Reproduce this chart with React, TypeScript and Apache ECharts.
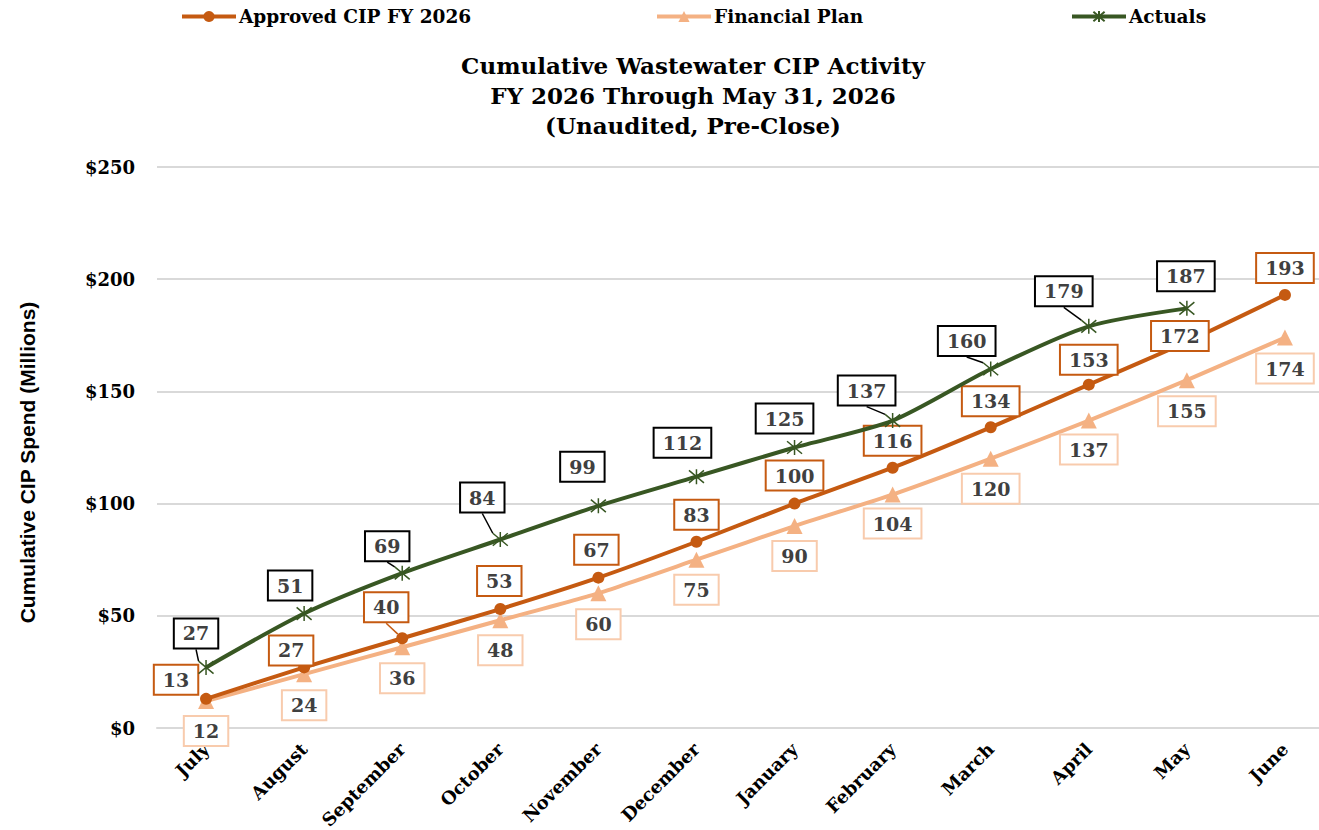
import React, { useEffect, useRef } from "react";
import * as echarts from "echarts";

const months = ["July", "August", "September", "October", "November", "December", "January", "February", "March", "April", "May", "June"];
const approved = [13, 27, 40, 53, 67, 83, 100, 116, 134, 153, 172, 193];
const financialPlan = [12, 24, 36, 48, 60, 75, 90, 104, 120, 137, 155, 174];
const actuals: (number | null)[] = [27, 51, 69, 84, 99, 112, 125, 137, 160, 179, 187, null];
const yTicks = [0, 50, 100, 150, 200, 250];

// label offsets (px) relative to each point
const actualsOffsets = [[-10, -34], [-14, -28], [-15, -27], [-18, -42], [-16, -39], [-14, -34], [-10, -29], [-26, -30], [-24, -28], [-25, -35], [-1, -32]];
const approvedOffsets = [[-30, -19], [-13, -17], [-16, -31], [-1, -28], [-2, -28], [0, -27], [0, -28], [0, -27], [0, -26], [0, -25], [-7, -6], [0, -27]];
const financialOffsets = [[0, 30], [0, 31], [0, 31], [0, 30], [0, 31], [0, 30], [0, 30], [0, 29], [0, 30], [0, 29], [0, 31], [0, 31]];
// which labels have a visible leader line
const actualsLeader = [true, false, true, true, false, false, false, true, true, true, false];
const approvedLeader = [false, false, true, false, false, false, false, false, false, false, false, false];

const SERIF = "'DejaVu Serif', 'Liberation Serif', serif";
const C_APPROVED = "#C55A11";
const C_PLAN = "#F4B183";
const C_ACT = "#385723";

function labelStyle(border: string) {
  return {
    show: true,
    position: "inside" as const,
    color: "#404040",
    fontFamily: SERIF,
    fontWeight: "bold" as const,
    fontSize: 19,
    backgroundColor: "#fff",
    borderColor: border,
    borderWidth: 2,
    padding: [6, 8, 3, 8],
  };
}

function withLeaders(values: (number | null)[], leaders: boolean[]) {
  return values.map((v, i) => ({ value: v, labelLine: { show: !!leaders[i] } }));
}

export default function App() {
  const ref = useRef<HTMLDivElement>(null);
  useEffect(() => {
    if (!ref.current) return;
    const chart = echarts.init(ref.current, null, { renderer: "svg" });
    const offsetsBySeries = [approvedOffsets, financialOffsets, actualsOffsets];
    const legendText = { fontFamily: SERIF, fontWeight: "bold" as const, fontSize: 18.5, color: "#000", padding: [0, 0, 0, -2] };
    const legendBase = { top: 2, itemWidth: 54, itemHeight: 14, textStyle: legendText, lineStyle: { width: 4 } };
    chart.setOption({
      animation: false,
      backgroundColor: "#fff",
      title: {
        text: "Cumulative Wastewater CIP Activity\nFY 2026 Through May 31, 2026\n(Unaudited, Pre-Close)",
        left: 688,
        textAlign: "center",
        top: 45,
        textStyle: { fontFamily: SERIF, fontWeight: "bold", fontSize: 23, lineHeight: 30, color: "#000" },
      },
      legend: [
        { ...legendBase, data: ["Approved CIP FY 2026"], left: 175 },
        { ...legendBase, data: ["Financial Plan"], left: 650 },
        { ...legendBase, data: ["Actuals"], left: 1065 },
      ],
      grid: { left: 157, width: 1177, top: 167, height: 561, outerBoundsMode: "none", containLabel: false },
      xAxis: {
        type: "category",
        data: months,
        boundaryGap: true,
        axisTick: { show: false },
        axisLine: { show: true, lineStyle: { color: "#D9D9D9", width: 2 } },
        axisLabel: { rotate: 45, margin: 18, fontFamily: SERIF, fontWeight: "bold", fontSize: 18, color: "#000", interval: 0 },
      },
      yAxis: {
        type: "value",
        min: 0,
        max: 250,
        interval: 50,
        name: "Cumulative CIP Spend (Millions)",
        nameLocation: "middle",
        nameRotate: 90,
        nameGap: 119,
        nameTextStyle: {
          fontFamily: "'Liberation Sans Narrow', 'Liberation Sans', sans-serif",
          fontWeight: "bold",
          fontSize: 21,
          color: "#000",
          padding: [0, 30, 0, 0],
        },
        axisLine: { show: false },
        axisTick: { show: false },
        splitLine: { lineStyle: { color: "#D9D9D9", width: 2 } },
        axisLabel: {
          margin: 22,
          fontFamily: SERIF,
          fontWeight: "bold",
          fontSize: 18,
          color: "#000",
          formatter: (v: number) => (yTicks.includes(v) ? "$" + v : ""),
        },
      },
      series: [
        {
          name: "Approved CIP FY 2026",
          type: "line",
          data: withLeaders(approved, approvedLeader),
          smooth: 0.15,
          symbol: "circle",
          symbolSize: 12,
          lineStyle: { color: C_APPROVED, width: 4 },
          itemStyle: { color: C_APPROVED },
          label: labelStyle(C_APPROVED),
          labelLine: { show: true, lineStyle: { color: C_APPROVED, width: 1.5 } },
          z: 3,
        },
        {
          name: "Financial Plan",
          type: "line",
          data: financialPlan,
          smooth: 0.15,
          symbol: "triangle",
          symbolSize: 16,
          lineStyle: { color: C_PLAN, width: 4 },
          itemStyle: { color: C_PLAN },
          label: labelStyle("#F8CBAD"),
          labelLine: { show: false },
          z: 2,
        },
        {
          name: "Actuals",
          type: "line",
          data: withLeaders(actuals, actualsLeader),
          smooth: 0.25,
          symbol: "path://M0,0L10,10M10,0L0,10M5,-1L5,11",
          symbolSize: 15,
          lineStyle: { color: C_ACT, width: 4 },
          itemStyle: { color: C_ACT, borderColor: C_ACT, borderWidth: 1.5 },
          label: labelStyle("#000"),
          labelLine: { show: true, lineStyle: { color: "#000", width: 1.5 } },
          z: 4,
        },
      ],
      labelLayout: (params: any) => {
        const offs = offsetsBySeries[params.seriesIndex];
        const o = offs && offs[params.dataIndex];
        if (!o) return {};
        return { dx: o[0], dy: o[1] };
      },
    });
    return () => chart.dispose();
  }, []);
  return <div ref={ref} style={{ position: "absolute", left: 0, top: 0, width: 1319, height: 830 }} />;
}
